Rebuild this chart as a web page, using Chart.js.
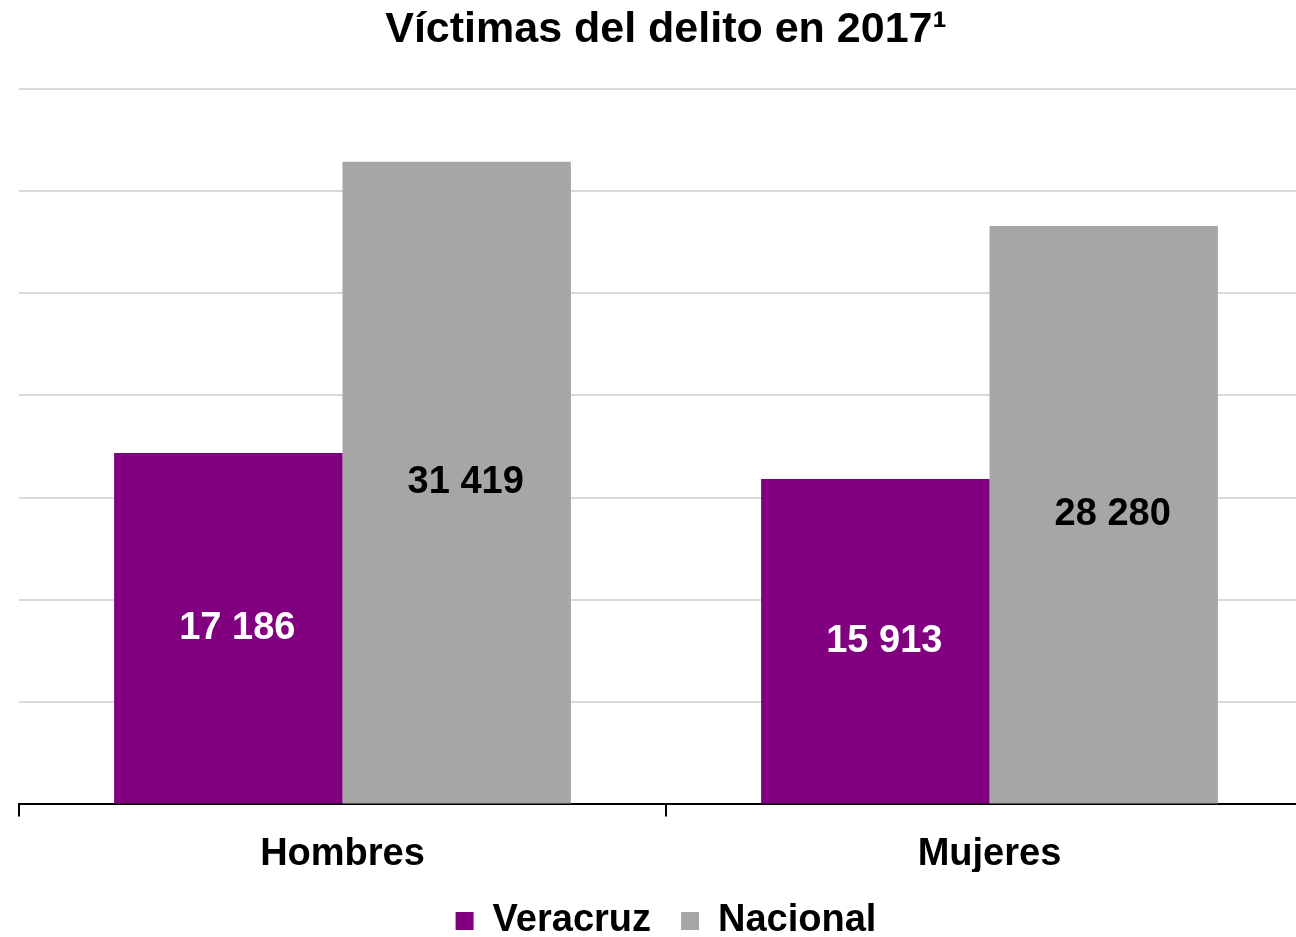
<!DOCTYPE html>
<html>
<head>
<meta charset="utf-8">
<script src="https://cdn.jsdelivr.net/npm/chart.js@4.4.0/dist/chart.umd.min.js"></script>
<style>
  html, body { margin: 0; padding: 0; background: #fff; overflow: hidden; }
  #wrap { width: 1313px; height: 950px; }
</style>
</head>
<body>
<div id="wrap"><canvas id="chart"></canvas></div>
<script>
const categories = ['Hombres', 'Mujeres'];
const seriesNames = ['Veracruz', 'Nacional'];
const veracruz = [17186, 15913];
const nacional = [31419, 28280];
const yTicks = [0, 5000, 10000, 15000, 20000, 25000, 30000, 35000];

const FONT = "'Liberation Sans', Arial, sans-serif";

// numeros con espacio como separador de miles
function fmt(v) {
    return String(v).replace(/\B(?=(\d{3})+(?!\d))/g, ' ');
}

// etiquetas dentro de las barras
const barLabels = {
    id: 'barLabels',
    afterDatasetsDraw(chart) {
        const ctx = chart.ctx;
        chart.data.datasets.forEach((ds, i) => {
            const meta = chart.getDatasetMeta(i);
            meta.data.forEach((bar, j) => {
                ctx.save();
                ctx.font = 'bold 38px ' + FONT;
                ctx.fillStyle = ds.labelColor;
                ctx.textAlign = 'center';
                ctx.textBaseline = 'middle';
                ctx.fillText(fmt(ds.data[j]), bar.x + 9, (bar.y + bar.base) / 2);
                ctx.restore();
            });
        });
    }
};

new Chart(document.getElementById('chart'), {
    type: 'bar',
    data: {
        labels: categories,
        datasets: [
            { label: seriesNames[0], data: veracruz, backgroundColor: '#800080', labelColor: '#ffffff' },
            { label: seriesNames[1], data: nacional, backgroundColor: '#A6A6A6', labelColor: '#000000' }
        ]
    },
    options: {
        responsive: true,
        maintainAspectRatio: false,
        animation: false,
        layout: { padding: { left: 19, right: 0, top: 0, bottom: 0 } },
        datasets: { bar: { categoryPercentage: 0.706, barPercentage: 1.0 } },
        plugins: {
            title: {
                display: true,
                text: 'Víctimas del delito en 2017¹',
                color: '#000',
                font: { family: FONT, size: 43, weight: 'bold' },
                padding: { top: 4, bottom: 33 }
            },
            legend: {
                position: 'bottom',
                labels: {
                    color: '#000',
                    boxWidth: 18,
                    boxHeight: 18,
                    padding: 30,
                    font: { family: FONT, size: 38, weight: 'bold' }
                }
            },
            tooltip: { enabled: false }
        },
        scales: {
            x: {
                afterFit(scale) { scale.height -= 20; },
                grid: { display: true, drawOnChartArea: false, offset: true, color: '#000', lineWidth: 2, tickLength: 12 },
                border: { display: true, color: '#000', width: 2 },
                ticks: { color: '#000', padding: 15, font: { family: FONT, size: 38, weight: 'bold' } }
            },
            y: {
                min: yTicks[0],
                max: yTicks[yTicks.length - 1],
                afterBuildTicks(scale) { scale.ticks = yTicks.map(v => ({ value: v })); },
                grid: { color: '#D9D9D9', lineWidth: 2, drawTicks: false },
                border: { display: false },
                ticks: { display: false }
            }
        }
    },
    plugins: [barLabels]
});
</script>
</body>
</html>
